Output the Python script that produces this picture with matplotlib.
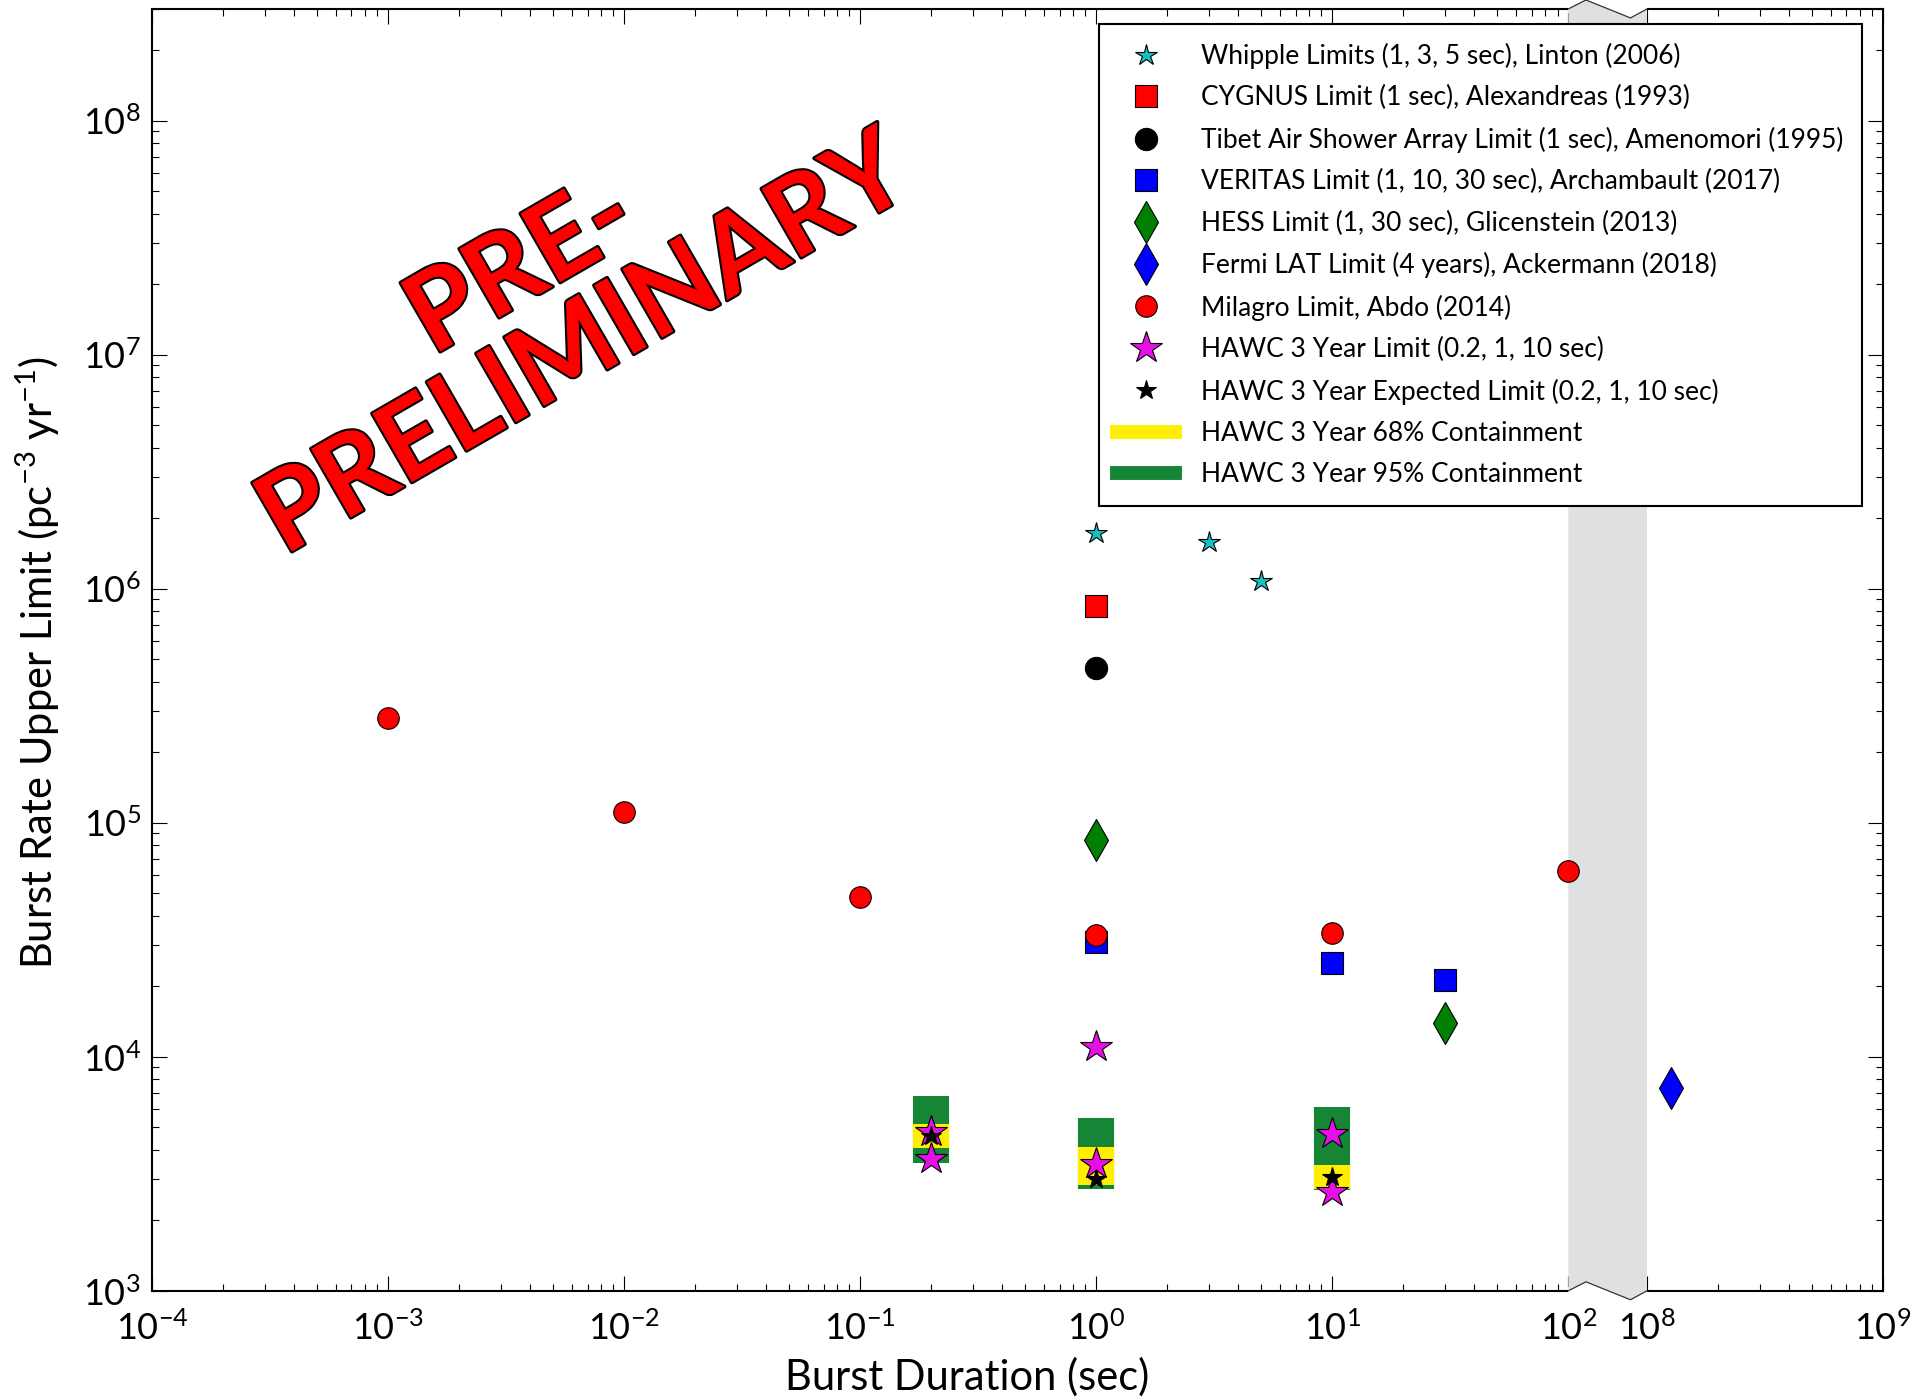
import numpy as np
import matplotlib
matplotlib.use('Agg')
import matplotlib.pyplot as plt
import matplotlib.patheffects as pe
from matplotlib.patches import Polygon
from matplotlib.ticker import FixedLocator, FixedFormatter, LogLocator, NullFormatter

plt.rcParams['font.family'] = ['Lato', 'DejaVu Sans']
plt.rcParams['mathtext.fontset'] = 'custom'
plt.rcParams['mathtext.rm'] = 'Lato'
plt.rcParams['mathtext.it'] = 'Lato:italic'
plt.rcParams['mathtext.bf'] = 'Lato:bold'

# --- data (burst duration in s, rate limit in pc^-3 yr^-1) ---
whipple_x = [1, 3, 5]
whipple_y = [1.73e6, 1.59e6, 1.08e6]
cygnus_x = [1]
cygnus_y = [8.45e5]
tibet_x = [1]
tibet_y = [4.58e5]
veritas_x = [1, 10, 30]
veritas_y = [3.1e4, 2.52e4, 2.13e4]
hess_x = [1, 30]
hess_y = [8.47e4, 1.40e4]
fermi_x = [1.26e8]
fermi_y = [7.38e3]
milagro_x = [1e-3, 1e-2, 1e-1, 1, 10, 100]
milagro_y = [2.8e5, 1.11e5, 4.81e4, 3.31e4, 3.39e4, 6.19e4]

hawc_lim_x = [0.2, 0.2, 1, 1, 10, 10]
hawc_lim_y = [4.76e3, 3.66e3, 1.1e4, 3.49e3, 4.69e3, 2.64e3]
hawc_x = [0.2, 1, 10]
hawc_exp_y = [4.6e3, 3.0e3, 3.05e3]
hawc68_lo = [4.06e3, 2.82e3, 2.73e3]
hawc68_hi = [5.15e3, 4.11e3, 3.46e3]
hawc95_lo = [3.51e3, 2.72e3, 2.70e3]
hawc95_hi = [6.83e3, 5.5e3, 6.13e3]

# broken x axis: 1e2 .. 1e8 squeezed into a third of a decade
BRK_LO, BRK_HI = 1e2, 1e8
GAP = 1.0 / 3


def fwd(x):
    x = np.asarray(x, dtype=float)
    with np.errstate(divide='ignore', invalid='ignore'):
        lx = np.log10(np.where(x > 0, x, np.nan))
    a, b = np.log10(BRK_LO), np.log10(BRK_HI)
    return np.where(lx <= a, lx,
                    np.where(lx >= b, lx - (b - a) + GAP, a + (lx - a) * GAP / (b - a)))


def inv(u):
    u = np.asarray(u, dtype=float)
    a, b = np.log10(BRK_LO), np.log10(BRK_HI)
    return np.where(u <= a, 10.0 ** u,
                    np.where(u >= a + GAP, 10.0 ** (u + (b - a) - GAP),
                             10.0 ** (a + (u - a) * (b - a) / GAP)))


fig = plt.figure(figsize=(19.26, 14), dpi=100)
ax = fig.add_axes([0.0789, 0.078, 0.8988, 0.9156])
ax.set_xscale('function', functions=(fwd, inv))
ax.set_yscale('log')
ax.set_xlim(1e-4, 1e9)
ax.set_ylim(1e3, 3e8)

# gray break band with zigzag edges
tr = ax.get_xaxis_transform()
dz = 0.007
p1 = 10 ** (2 + 6 * 0.225)
p2 = 10 ** (2 + 6 * 0.79)
for yy in (0, 1):
    ax.add_patch(Polygon([(BRK_LO, yy - 0.003), (BRK_HI, yy - 0.003),
                          (BRK_HI, yy + 0.003), (BRK_LO, yy + 0.003)],
                         closed=True, transform=tr, facecolor='white',
                         edgecolor='none', clip_on=False, zorder=3))
band = [(BRK_LO, 1), (p1, 1 + dz), (p2, 1 - dz), (BRK_HI, 1),
        (BRK_HI, 0), (p2, -dz), (p1, dz), (BRK_LO, 0)]
ax.add_patch(Polygon(band, closed=True, transform=tr, facecolor='#dfe0e2',
                     edgecolor='none', clip_on=False, zorder=3.1))
ax.plot([BRK_LO, p1, p2, BRK_HI], [1, 1 + dz, 1 - dz, 1], color='#333333',
        lw=0.9, transform=tr, clip_on=False, zorder=3.2)
ax.plot([BRK_LO, p1, p2, BRK_HI], [0, dz, -dz, 0], color='#333333',
        lw=0.9, transform=tr, clip_on=False, zorder=3.2)

# HAWC containment boxes
ax.vlines(hawc_x, hawc95_lo, hawc95_hi, colors='#178536', lw=26,
          capstyle='butt', zorder=4)
ax.vlines(hawc_x, hawc68_lo, hawc68_hi, colors='#ffee00', lw=26,
          capstyle='butt', zorder=4.1)

mk = dict(linestyle='none', markeredgecolor='black', markeredgewidth=0.8, zorder=5)
ax.plot(whipple_x, whipple_y, marker='*', color='#17bfbf', ms=16,
        label='Whipple Limits (1, 3, 5 sec), Linton (2006)', **mk)
ax.plot(cygnus_x, cygnus_y, marker='s', color='red', ms=15.5,
        label='CYGNUS Limit (1 sec), Alexandreas (1993)', **mk)
ax.plot(tibet_x, tibet_y, marker='o', color='black', ms=16,
        label='Tibet Air Shower Array Limit (1 sec), Amenomori (1995)', **mk)
ax.plot(veritas_x, veritas_y, marker='s', color='blue', ms=15.5,
        label='VERITAS Limit (1, 10, 30 sec), Archambault (2017)', **mk)
ax.plot(hess_x, hess_y, marker='d', color='green', ms=21,
        label='HESS Limit (1, 30 sec), Glicenstein (2013)', **mk)
ax.plot(fermi_x, fermi_y, marker='d', color='blue', ms=21,
        label='Fermi LAT Limit (4 years), Ackermann (2018)', **mk)
ax.plot(milagro_x, milagro_y, marker='o', color='red', ms=15.5,
        label='Milagro Limit, Abdo (2014)', **mk)
ax.plot(hawc_lim_x, hawc_lim_y, marker='*', color='#e60fe6', ms=24,
        label='HAWC 3 Year Limit (0.2, 1, 10 sec)', **mk)
ax.plot(hawc_x, hawc_exp_y, marker='*', color='black', ms=15,
        label='HAWC 3 Year Expected Limit (0.2, 1, 10 sec)', **mk)
ax.plot([], [], color='#ffee00', lw=10, label='HAWC 3 Year 68% Containment')
ax.plot([], [], color='#178536', lw=10, label='HAWC 3 Year 95% Containment')

# ticks
majors = [1e-4, 1e-3, 1e-2, 1e-1, 1e0, 1e1, 1e2, 1e8, 1e9]
major_labels = ['$10^{-4}$', '$10^{-3}$', '$10^{-2}$', '$10^{-1}$', '$10^{0}$',
                '$10^{1}$', '$10^{2}$', '$10^{8}$', '$10^{9}$']
minors = [m * 10.0 ** e for e in range(-4, 2) for m in range(2, 10)]
minors += [m * 1e8 for m in range(2, 10)]
ax.xaxis.set_major_locator(FixedLocator(majors))
ax.xaxis.set_major_formatter(FixedFormatter(major_labels))
ax.xaxis.set_minor_locator(FixedLocator(minors))
ax.xaxis.set_minor_formatter(NullFormatter())
ax.yaxis.set_major_locator(LogLocator(base=10, numticks=20))
ax.yaxis.set_minor_locator(LogLocator(base=10, subs=np.arange(2, 10), numticks=20))
ax.yaxis.set_minor_formatter(NullFormatter())

ax.tick_params(which='both', direction='in', top=True, right=True,
               labelsize=26, width=0.8, pad=8)
ax.tick_params(axis='x', which='major', pad=14)
ax.tick_params(which='major', length=11)
ax.tick_params(which='minor', length=5)
for s in ax.spines.values():
    s.set_linewidth(1.5)

ax.set_xlabel('Burst Duration (sec)', fontsize=30)
ax.set_ylabel('Burst Rate Upper Limit (pc$^{-3}$ yr$^{-1}$)', fontsize=30)
ax.xaxis.set_label_coords(0.471, -0.052)
ax.yaxis.set_label_coords(-0.052, 0.49)

leg = ax.legend(loc='upper right', bbox_to_anchor=(0.988, 0.988), borderaxespad=0,
                fontsize=19, numpoints=1, handlelength=2.2, handletextpad=1.0,
                labelspacing=0.62, borderpad=0.7, fancybox=False, framealpha=1,
                edgecolor='black')
leg.get_frame().set_linewidth(1.5)
leg.set_zorder(10)

stroke = [pe.withStroke(linewidth=3, foreground='black')]
fig.text(0.271, 0.8086, 'PRE-', fontsize=79, fontweight='bold', color='red',
         rotation=30, ha='center', va='center', rotation_mode='anchor',
         path_effects=stroke)
fig.text(0.3037, 0.7529, 'PRELIMINARY', fontsize=79, fontweight='bold', color='red',
         rotation=30, ha='center', va='center', rotation_mode='anchor',
         path_effects=stroke)

fig.savefig('out.png', dpi=100)
